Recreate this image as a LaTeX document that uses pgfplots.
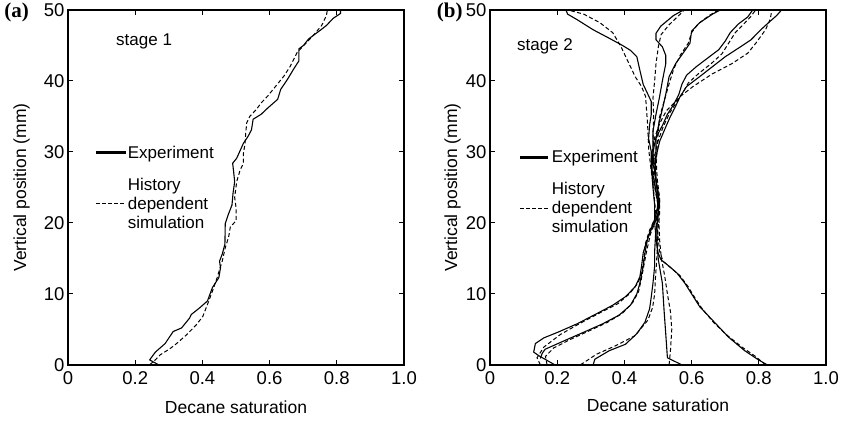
\documentclass[border=0pt]{standalone}
\usepackage{pgfplots}
\pgfplotsset{compat=1.18}
\usepackage{fontspec}
\setmainfont{Liberation Sans}
\newfontfamily\serifbold{Liberation Serif}[BoldFont={Liberation Serif Bold}]

\pgfplotsset{
 myaxis/.style={
  scale only axis,
  clip=false,
  xmin=0,xmax=1,ymin=0,ymax=50,
  xtick={0,0.2,0.4,0.6,0.8,1.0},
  xticklabels={0,0.2,0.4,0.6,0.8,1.0},
  ytick={0,10,20,30,40,50},
  tick align=inside,
  major tick length=5pt,
  axis line style={line width=1.3pt},
  tick style={line width=0.8pt, black},
  /pgf/number format/assume math mode=true,
  ticklabel style={font=\fontsize{18.5}{21}\selectfont},
  xticklabel style={yshift=-3pt},
  label style={font=\fontsize{17.5}{20}\selectfont},
  xlabel={Decane saturation},
  ylabel={Vertical position (mm)},
  legend cell align=left,
  legend style={draw=none, fill=none, font=\fontsize{17}{19}\selectfont,
     nodes={align=left, inner sep=0pt}, row sep=18pt, anchor=north west},
 },
 exp/.style={black, line width=1.1pt},
 sim/.style={black, line width=1.0pt, dash pattern=on 4pt off 2.5pt},
}

\begin{document}
\begin{tikzpicture}
\path (0pt,0pt) rectangle (845pt,419pt);

% ---------------- panel (a)
\begin{axis}[myaxis,
  at={(68pt,56pt)}, anchor=south west, width=336pt, height=355pt,
  xlabel style={at={(axis description cs:0.5,-0.118)}, anchor=center},
  ylabel style={at={(axis description cs:-0.138,0.5)}, anchor=center},
  legend style={at={(axis cs:0.071,31.15)}},
]
\addlegendimage{legend image code/.code={\draw[line width=2.8pt] (0pt,0pt) -- (30pt,0pt);}}
\addlegendentry{Experiment}
\addlegendimage{legend image code/.code={\draw[line width=1.6pt, dash pattern=on 4pt off 2pt] (0pt,0pt) -- (29pt,0pt);}}
\addlegendentry{History\\dependent\\simulation}

\addplot[exp, forget plot] coordinates {
(0.270,0) (0.243,0.7) (0.260,1.8) (0.289,3.0) (0.313,4.7) (0.338,5.2) (0.362,6.6) (0.367,7.1)
(0.391,8.0) (0.415,9.0) (0.430,10.9) (0.449,12.3) (0.454,13.7) (0.451,14.6) (0.459,15.6)
(0.467,17.0) (0.468,19.9) (0.478,21.3) (0.488,22.5) (0.491,24.1) (0.496,25.8) (0.493,27.2)
(0.490,28.4) (0.502,29.1) (0.522,31.2) (0.536,32.2) (0.546,33.1) (0.551,34.6) (0.575,35.3)
(0.595,36.2) (0.624,37.4) (0.633,38.8) (0.653,40.2) (0.672,41.7) (0.687,42.8) (0.687,44.5)
(0.701,45.0) (0.716,45.9) (0.730,46.4) (0.750,47.1) (0.769,47.8) (0.789,48.8) (0.811,49.5) (0.811,50)
};
\addplot[sim, forget plot] coordinates {
(0.243,0) (0.262,0.8) (0.274,1.4) (0.304,2.3) (0.323,3.0) (0.352,4.2) (0.381,5.6) (0.401,6.8)
(0.415,8.5) (0.430,10.4) (0.444,12.3) (0.452,13.6) (0.459,14.6) (0.468,16.5) (0.478,18.0)
(0.483,19.4) (0.500,20.3) (0.500,22.2) (0.496,23.6) (0.502,25.8) (0.512,27.4) (0.522,28.4)
(0.522,29.8) (0.527,31.2) (0.529,32.7) (0.532,34.1) (0.541,35.0) (0.561,36.0) (0.575,36.9)
(0.595,37.9) (0.619,39.3) (0.643,40.7) (0.662,42.1) (0.682,44.0) (0.706,45.2) (0.730,46.4)
(0.755,47.8) (0.769,49.2) (0.772,50)
};
\node[anchor=west, font=\fontsize{17}{20}\selectfont, inner sep=0pt] at (axis cs:0.143,45.5) {stage 1};
\node[font=\fontsize{21}{23}\selectfont\serifbold\bfseries, inner sep=0pt] at (axis description cs:-0.153,0.994) {(a)};
\end{axis}

% ---------------- panel (b)
\begin{axis}[myaxis,
  at={(490pt,56pt)}, anchor=south west, width=336pt, height=355pt,
  xlabel style={at={(axis description cs:0.5,-0.113)}, anchor=center},
  ylabel style={at={(axis description cs:-0.111,0.5)}, anchor=center},
  legend style={at={(axis cs:0.077,30.5)}},
]
\addlegendimage{legend image code/.code={\draw[line width=2.8pt] (0pt,0pt) -- (28pt,0pt);}}
\addlegendentry{\hspace{2pt}Experiment}
\addlegendimage{legend image code/.code={\draw[line width=1.2pt, dash pattern=on 4pt off 2pt] (0pt,0pt) -- (28pt,0pt);}}
\addlegendentry{\hspace{2pt}History\\\hspace{2pt}dependent\\\hspace{2pt}simulation}

% curve 1
\addplot[exp, forget plot] coordinates {
(0.193,0) (0.145,1.3) (0.130,1.8) (0.135,3.0) (0.160,3.8) (0.202,4.6) (0.260,5.8) (0.317,7.2)
(0.365,8.4) (0.403,9.6) (0.432,11) (0.446,12.4) (0.451,13.9) (0.456,15.8) (0.465,17.2)
(0.480,19.1) (0.499,21) (0.505,23) (0.495,25.5) (0.490,27.5) (0.495,29.5) (0.505,31.5)
(0.523,33.5) (0.537,35) (0.552,36.4) (0.566,37.8) (0.585,39.2) (0.624,40.6) (0.662,42)
(0.700,43.4) (0.739,44.6) (0.777,45.8) (0.806,47.2) (0.829,48.2) (0.853,49.2) (0.868,50)
};
\addplot[sim, forget plot] coordinates {
(0.150,0) (0.140,1.0) (0.160,2.5) (0.210,4.3) (0.270,5.9) (0.330,7.4) (0.380,8.6) (0.415,10)
(0.440,11.5) (0.452,13) (0.458,15) (0.462,17) (0.475,19) (0.495,21) (0.500,23) (0.490,25.5)
(0.485,27.5) (0.490,29.5) (0.500,31.5) (0.515,33.5) (0.535,35.5) (0.566,37.8) (0.604,39.2)
(0.662,41) (0.719,42.4) (0.767,43.9) (0.791,45.3) (0.820,47.2) (0.834,48.7) (0.839,50)
};
% curve 2
\addplot[exp, forget plot] coordinates {
(0.150,0.9) (0.155,1.6) (0.164,2.2) (0.221,3.4) (0.279,4.6) (0.336,5.8) (0.384,7) (0.418,8.4)
(0.437,10) (0.446,11.5) (0.456,13.9) (0.462,16) (0.470,18) (0.490,20.5) (0.500,22.5)
(0.492,25) (0.482,27.5) (0.485,30) (0.494,32) (0.514,33.8) (0.528,35.3) (0.547,36.7)
(0.562,38.1) (0.571,39.5) (0.585,40.8) (0.614,42) (0.653,43.4) (0.681,44.4) (0.700,45.6)
(0.715,46.8) (0.739,48) (0.767,49) (0.782,50)
};
\addplot[sim, forget plot] coordinates {
(0.170,0) (0.165,1.2) (0.190,2.4) (0.240,3.6) (0.300,4.9) (0.350,6) (0.395,7.3) (0.425,8.8)
(0.442,10.3) (0.450,12) (0.458,14) (0.466,16) (0.478,18.5) (0.495,20.5) (0.500,22.5)
(0.490,25) (0.480,27.5) (0.482,30) (0.490,32) (0.505,34) (0.525,35.8) (0.550,37) (0.571,38.1)
(0.590,39.7) (0.620,41) (0.660,42.5) (0.690,43.8) (0.710,45.3) (0.730,46.8) (0.755,48)
(0.775,49) (0.791,50)
};
% curve 3
\addplot[exp, forget plot] coordinates {
(0.307,0) (0.312,0.8) (0.355,2) (0.403,2.9) (0.437,4.4) (0.461,6) (0.475,7.9) (0.480,9.6)
(0.485,11.5) (0.490,13.9) (0.490,16) (0.493,18.5) (0.500,21) (0.502,23) (0.495,25.5)
(0.492,28) (0.494,30) (0.494,31.9) (0.504,34.3) (0.514,36.2) (0.523,38.1) (0.533,40.6)
(0.552,42.4) (0.576,44) (0.595,45.3) (0.600,47) (0.624,48.2) (0.662,49.4) (0.686,50)
};
\addplot[sim, forget plot] coordinates {
(0.269,0) (0.317,1.5) (0.374,2.7) (0.431,4.1) (0.470,6.3) (0.484,8.1) (0.490,10) (0.492,12)
(0.495,14) (0.498,16.5) (0.500,19) (0.505,21.5) (0.505,23.5) (0.498,26) (0.495,28.5)
(0.498,31) (0.504,34.8) (0.518,37.1) (0.533,39.6) (0.547,41.7) (0.566,43.6) (0.590,45.3)
(0.600,46.8) (0.619,48) (0.652,49.2) (0.681,50)
};
% curve 4
\addplot[exp, forget plot] coordinates {
(0.571,0) (0.528,1) (0.523,4.4) (0.518,7.7) (0.513,11.5) (0.501,14.8) (0.497,17) (0.497,19.5)
(0.502,22) (0.500,24.5) (0.490,27) (0.485,29.5) (0.485,32.9) (0.494,35.3) (0.504,37.6)
(0.513,40) (0.523,42.4) (0.523,43.6) (0.513,44.8) (0.494,45.8) (0.494,46.7) (0.508,47.7)
(0.546,49.2) (0.576,50)
};
\addplot[sim, forget plot] coordinates {
(0.533,0) (0.537,2) (0.541,5) (0.537,7.5) (0.528,10) (0.520,12.5) (0.510,15) (0.505,17.5)
(0.503,20) (0.502,22.5) (0.497,25) (0.490,27.5) (0.487,30) (0.485,32.5) (0.487,35.3)
(0.485,37.6) (0.490,40) (0.494,42.4) (0.501,44.8) (0.509,46.5) (0.533,47.9) (0.566,49.4) (0.578,50)
};
% curve 5
\addplot[exp, forget plot] coordinates {
(0.825,0) (0.796,0.8) (0.758,2) (0.710,3.9) (0.662,6.3) (0.624,8.2) (0.600,10) (0.580,11.5)
(0.557,12.9) (0.533,13.9) (0.509,14.8) (0.500,15.8) (0.495,17.5) (0.490,20) (0.490,22.5)
(0.485,25) (0.480,28.1) (0.480,30) (0.472,31.9) (0.475,33.8) (0.480,35.3) (0.480,37.1)
(0.470,38.1) (0.456,39.5) (0.446,41.5) (0.437,43.4) (0.418,44.3) (0.394,45) (0.355,46)
(0.307,47.2) (0.260,48.6) (0.231,49.4) (0.226,50)
};
\addplot[sim, forget plot] coordinates {
(0.820,0) (0.790,1.2) (0.750,2.5) (0.705,4.2) (0.665,6) (0.630,8) (0.605,9.8) (0.590,11)
(0.565,12.6) (0.540,13.6) (0.515,14.6) (0.505,16) (0.500,18) (0.495,20.5) (0.490,23)
(0.485,25.5) (0.478,28) (0.472,30.5) (0.469,33.9) (0.466,35.8) (0.463,37.8) (0.451,39.2)
(0.432,40.6) (0.408,43) (0.389,44.9) (0.365,46.8) (0.327,48.2) (0.279,49.4) (0.231,50)
};
\node[anchor=west, font=\fontsize{17}{20}\selectfont, inner sep=0pt] at (axis cs:0.080,44.8) {stage 2};
\node[font=\fontsize{21}{23}\selectfont\serifbold\bfseries, inner sep=0pt] at (axis description cs:-0.120,0.994) {(b)};
\end{axis}
\end{tikzpicture}
\end{document}
